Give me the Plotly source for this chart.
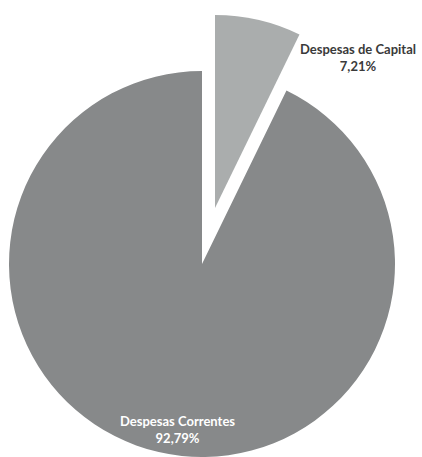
import plotly.graph_objects as go

labels = ["Despesas de Capital", "Despesas Correntes"]
values = [7.21, 92.79]
colors = ["#aaadad", "#87898a"]

W, H = 422, 457


def pct(v):
    return f"{v:.2f}".replace(".", ",") + "%"


def box(cx, cy, r):
    # square domain (paper coords) for a pie centred at pixel (cx, cy)
    return dict(x=[(cx - r) / W, (cx + r) / W], y=[1 - (cy + r) / H, 1 - (cy - r) / H])


fig = go.Figure()

# main body: Correntes slice, capital slice left empty
fig.add_trace(go.Pie(
    labels=labels, values=values, sort=False, direction="clockwise", rotation=0,
    marker=dict(colors=["rgba(0,0,0,0)", colors[1]], line=dict(width=0)),
    textinfo="none", showlegend=False, domain=box(202, 264, 193),
))

# exploded slice: same pie shifted out along the slice's mid angle
fig.add_trace(go.Pie(
    labels=labels, values=values, sort=False, direction="clockwise", rotation=0,
    marker=dict(colors=[colors[0], "rgba(0,0,0,0)"], line=dict(width=0)),
    textinfo="none", showlegend=False, domain=box(215, 208, 193),
))

fnt = dict(family="Lato", size=13)
fig.add_annotation(x=358 / W, y=1 - 57 / H, xref="paper", yref="paper", showarrow=False,
                   xanchor="center", yanchor="middle",
                   text=f"<b>{labels[0]}<br>{pct(values[0])}</b>",
                   font=dict(color="#3a3a3a", **fnt), align="center")
fig.add_annotation(x=177 / W, y=1 - 429 / H, xref="paper", yref="paper", showarrow=False,
                   xanchor="center", yanchor="middle",
                   text=f"<b>{labels[1]}<br>{pct(values[1])}</b>",
                   font=dict(color="#ffffff", **fnt), align="center")

fig.update_layout(width=W, height=H, margin=dict(l=0, r=0, t=0, b=0),
                  paper_bgcolor="white", plot_bgcolor="white")
fig.write_html("out.html", config={"displayModeBar": False},
               post_script="document.body.style.margin='0';")
